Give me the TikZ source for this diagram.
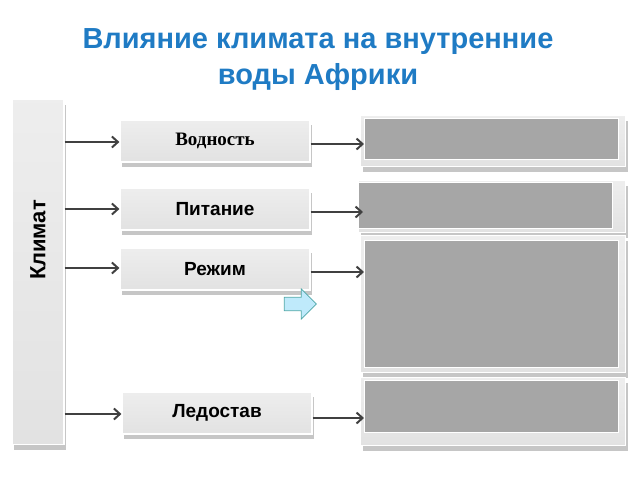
\documentclass[tikz,border=0pt]{standalone}
\usepackage{fontspec}
\setmainfont{Liberation Sans}
\newfontfamily\serifbold{Liberation Serif}
\usetikzlibrary{positioning,shadows,shapes.arrows,arrows.meta}

\definecolor{titleblue}{HTML}{1F7BC4}
\definecolor{panelgrey}{HTML}{A6A6A6}
\definecolor{bevelgrey}{HTML}{E2E2E2}
\tikzset{
	bevel/.style={draw=white, line width=1.2pt, top color=bevelgrey!60, bottom color=bevelgrey,
		drop shadow={shadow xshift=2pt, shadow yshift=-5pt, opacity=0.45}},
	factor/.style={bevel, minimum width=190pt, minimum height=42pt, font=\bfseries\fontsize{19}{19}\selectfont},
	frame/.style={bevel, anchor=north west},
	panel/.style={fill=panelgrey, draw=white, line width=0.8pt, anchor=north west},
	link/.style={-{Straight Barb[length=6pt,width=11pt]}, line width=2pt, draw=black!75},
}

\begin{document}
\begin{tikzpicture}[x=1pt,y=-1pt]
	\useasboundingbox (0,0) rectangle (640,480);

	% title
	\node[text=titleblue, font=\bfseries\fontsize{29}{36}\selectfont, align=center] (title)
		at (318,60) {Влияние климата на внутренние\\воды Африки};

	% climate bar
	\node[bevel, minimum width=52pt, minimum height=345pt] (klimat) at (38,272) {};
	\node[rotate=90, font=\bfseries\fontsize{22}{22}\selectfont] (klimattxt) at (38,240) {Климат};

	% factors
	\node[factor, font=\serifbold\bfseries\fontsize{19}{19}\selectfont] (vod) at (215,141) {Водность};
	\node[factor] (pit) at (215,209) {Питание};
	\node[factor] (rej) at (215,269) {Режим};
	\node[factor] (led) at (217,413) {Ледостав};

	% answer frames and panels
	\node[frame, minimum width=265pt, minimum height=51pt] (f1) at (360,115) {};
	\node[panel, minimum width=254pt, minimum height=41pt] (p1) at (364,118) {};
	\node[frame, minimum width=267pt, minimum height=52pt] (f2) at (358,180) {};
	\node[panel, minimum width=254pt, minimum height=46pt] (p2) at (358,182) {};
	\node[frame, minimum width=265pt, minimum height=137pt] (f3) at (360,235) {};
	\node[panel, minimum width=254pt, minimum height=127pt] (p3) at (364,240) {};
	\node[frame, minimum width=265pt, minimum height=68pt] (f4) at (360,377) {};
	\node[panel, minimum width=254pt, minimum height=52pt] (p4) at (364,380) {};

	% hint arrow
	\node[single arrow, draw=teal!70, line width=0.8pt, fill=cyan!25, minimum height=32pt, minimum width=30pt,
		single arrow head extend=3pt, inner sep=2pt] (hint) at (297,304) {};

	% links
	\foreach \f/\y in {vod/142, pit/209, rej/268, led/414}
		\draw[link] (klimat.east |- 0,\y) -- (\f.west |- 0,\y);
	\draw[link] (vod.east) ++(0,3) -- (p1.west |- 0,144);
	\draw[link] (pit.east) ++(0,3) -- (363,212);
	\draw[link] (rej.east) ++(0,3) -- (p3.west |- 0,272);
	\draw[link] (led.east) ++(0,5) -- (p4.west |- 0,418);
\end{tikzpicture}
\end{document}
